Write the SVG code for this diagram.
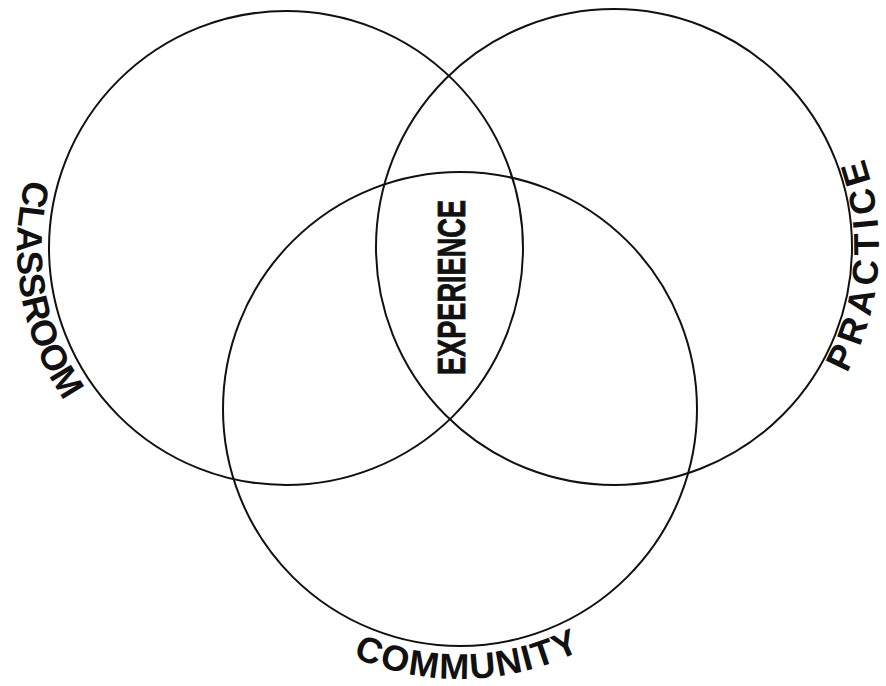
<svg xmlns="http://www.w3.org/2000/svg" width="886" height="686" viewBox="0 0 886 686">
<style>
.ring{fill:none;stroke:#111;stroke-width:2}
.lbl{font-family:"Liberation Sans",Arial,sans-serif;font-weight:bold;font-size:36px;fill:#111}
.exp{font-family:"Liberation Sans",Arial,sans-serif;font-weight:bold;font-size:39px;fill:#111;stroke:#111;stroke-width:0.8}
</style>
<defs>
<path id="pClass" d="M286,-21 A269,269 0 1 0 286,517 A269,269 0 1 0 286,-21"/>
<path id="pPract" d="M614,-18 A265,265 0 1 0 614,512 A265,265 0 1 0 614,-18"/>
<path id="pComm" d="M460,139 A270,270 0 1 0 460,679 A270,270 0 1 0 460,139"/>
</defs>
<rect width="886" height="686" fill="#fff"/>
<g id="classroom">
<circle class="ring" cx="286" cy="248" r="237"/>
<text class="lbl"><textPath href="#pClass" startOffset="27.75%" text-anchor="middle" textLength="232" lengthAdjust="spacing">CLASSROOM</textPath></text>
</g>
<g id="practice">
<circle class="ring" cx="614" cy="247" r="238"/>
<text class="lbl"><textPath href="#pPract" startOffset="73.75%" text-anchor="middle" textLength="222" lengthAdjust="spacing">PRACTICE</textPath></text>
</g>
<g id="community">
<circle class="ring" cx="460" cy="409" r="237"/>
<text class="lbl"><textPath href="#pComm" startOffset="50.44%" text-anchor="middle" textLength="235" lengthAdjust="spacing">COMMUNITY</textPath></text>
</g>
<g id="experience">
<text class="exp" transform="translate(465,287.5) rotate(-90)" text-anchor="middle" textLength="175" lengthAdjust="spacingAndGlyphs">EXPERIENCE</text>
</g>
<g id="connectors"/>
</svg>
